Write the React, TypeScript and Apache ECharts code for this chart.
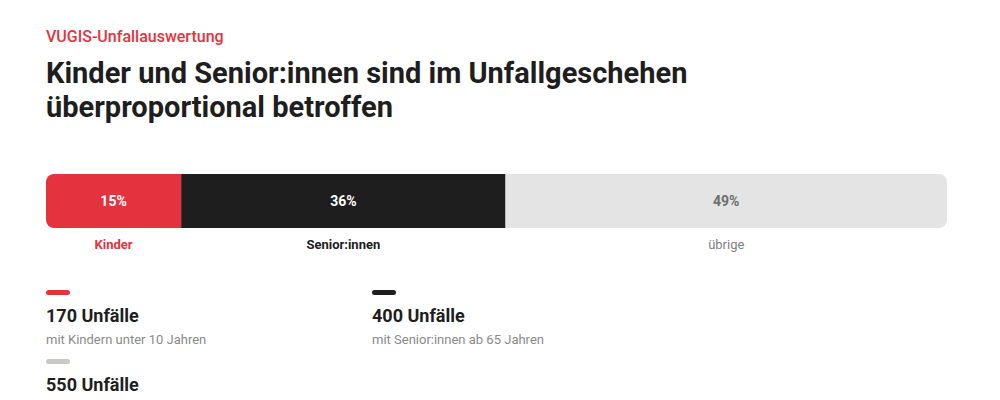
import React, { useEffect, useRef } from 'react';
import * as echarts from 'echarts';

// share of accidents per group (percent)
const categories = ['Kinder', 'Senior:innen', 'übrige'];
const shares = [15, 36, 49];
const accidentCounts = [170, 400, 550];
const legendNotes = ['mit Kindern unter 10 Jahren', 'mit Senior:innen ab 65 Jahren', ''];

const barColors = ['#e5323f', '#1e1e1e', '#e4e4e4'];
const valueColors = ['#ffffff', '#ffffff', '#6e6e6e'];
const nameColors = ['#e5323f', '#1e1e1e', '#808080'];
const legendLineColors = ['#e5323f', '#1e1e1e', '#c9c9c5'];

const FONT = 'Roboto, "Noto Sans", sans-serif';

const App: React.FC = () => {
  const chartRef = useRef<HTMLDivElement>(null);

  useEffect(() => {
    document.body.style.margin = '0';
    if (!chartRef.current) return;
    const chart = echarts.init(chartRef.current, undefined, { renderer: 'svg' });

    const last = shares.length - 1;

    const barSeries = shares.map((v, i) => ({
      name: categories[i],
      type: 'bar',
      stack: 'total',
      barWidth: 54,
      xAxisIndex: 0,
      yAxisIndex: 0,
      data: [v],
      itemStyle: {
        color: barColors[i],
        borderRadius: i === 0 ? [8, 0, 0, 8] : i === last ? [0, 8, 8, 0] : 0,
      },
      label: {
        show: true,
        position: 'inside',
        formatter: `${v}%`,
        color: valueColors[i],
        fontFamily: FONT,
        fontSize: 14,
        fontWeight: 'bold',
      },
    }));

    // invisible copy of the bar that carries the category names underneath
    const nameSeries = shares.map((v, i) => ({
      name: categories[i] + '-name',
      type: 'bar',
      stack: 'names',
      barWidth: 20,
      xAxisIndex: 1,
      yAxisIndex: 1,
      data: [v],
      itemStyle: { color: 'transparent' },
      label: {
        show: true,
        position: 'inside',
        formatter: categories[i],
        color: nameColors[i],
        fontFamily: FONT,
        fontSize: 13,
        fontWeight: i === last ? 'normal' : 'bold',
      },
    }));

    // legend blocks below the bar
    const colX = [46, 372, 46];
    const rowY = [290, 290, 359];
    const legendGraphics: any[] = [];
    accidentCounts.forEach((c, i) => {
      legendGraphics.push({
        type: 'rect',
        left: colX[i],
        top: rowY[i],
        shape: { width: 24, height: 5, r: 2.5 },
        style: { fill: legendLineColors[i] },
      });
      legendGraphics.push({
        type: 'text',
        left: colX[i],
        top: rowY[i] + 16,
        style: {
          text: `${c} Unfälle`,
          fontFamily: FONT,
          fontSize: 18,
          fontWeight: 'bold',
          fill: '#1e1e1e',
        },
      });
      if (legendNotes[i]) {
        legendGraphics.push({
          type: 'text',
          left: colX[i],
          top: rowY[i] + 43,
          style: {
            text: legendNotes[i],
            fontFamily: FONT,
            fontSize: 13,
            fill: '#8a8a8a',
          },
        });
      }
    });

    chart.setOption({
      animation: false,
      backgroundColor: '#ffffff',
      title: [
        {
          text: 'VUGIS-Unfallauswertung',
          left: 41,
          top: 23,
          textStyle: { color: '#e5323f', fontFamily: FONT, fontSize: 16, fontWeight: 500 },
        },
        {
          text: 'Kinder und Senior:innen sind im Unfallgeschehen\nüberproportional betroffen',
          left: 41,
          top: 51,
          textStyle: {
            color: '#1e1e1e',
            fontFamily: FONT,
            fontSize: 29,
            fontWeight: 'bold',
            lineHeight: 34,
          },
        },
      ],
      grid: [
        { left: 46, right: 53, top: 174, height: 54 },
        { left: 46, right: 53, top: 234, height: 20 },
      ],
      xAxis: [
        { type: 'value', min: 0, max: 100, show: false, gridIndex: 0 },
        { type: 'value', min: 0, max: 100, show: false, gridIndex: 1 },
      ],
      yAxis: [
        { type: 'category', data: ['Anteil'], show: false, gridIndex: 0 },
        { type: 'category', data: ['Anteil'], show: false, gridIndex: 1 },
      ],
      series: [...barSeries, ...nameSeries],
      graphic: legendGraphics,
    });

    return () => {
      chart.dispose();
    };
  }, []);

  return <div ref={chartRef} style={{ width: '1000px', height: '400px' }} />;
};

export default App;
